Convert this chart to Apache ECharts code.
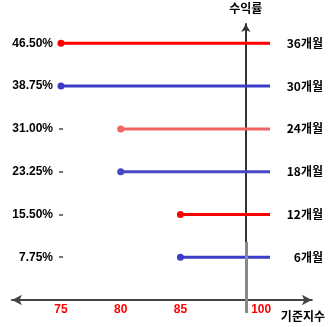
<!DOCTYPE html>
<html>
<head>
<meta charset="utf-8">
<script src="https://cdn.jsdelivr.net/npm/echarts@6/dist/echarts.min.js"></script>
<style>
  html, body { margin: 0; padding: 0; background: #fff; }
  #chart { width: 328px; height: 327px; }
</style>
</head>
<body>
<div id="chart"></div>
<script>
// 만기별 조기상환 조건
const periods = ['36개월', '30개월', '24개월', '18개월', '12개월', '6개월']
const returns = [46.5, 38.75, 31.0, 23.25, 15.5, 7.75]
const barriers = [75, 75, 80, 80, 85, 85]
const lineEnd = 102
const xTicks = [75, 80, 85, 100]
const yTicks = [7.75, 15.5, 23.25, 31.0, 38.75, 46.5]
const lineColors = ['#ff0000', '#3c3cc8', '#f26464', '#4848c4', '#ff0000', '#3c3cc8']

const chart = echarts.init(document.getElementById('chart'))

const series = periods.map((name, i) => ({
  name: name,
  type: 'line',
  xAxisIndex: 0,
  yAxisIndex: 0,
  data: [
    { value: [barriers[i], returns[i]], symbol: 'circle' },
    { value: [lineEnd, returns[i]], symbol: 'none' }
  ],
  symbolSize: 7,
  showAllSymbol: true,
  color: lineColors[i],
  lineStyle: { width: 3, color: lineColors[i] },
  itemStyle: { color: lineColors[i] },
  endLabel: {
    show: true,
    formatter: '{a}',
    color: '#000',
    fontWeight: 'bold',
    fontSize: 12,
    fontFamily: 'Noto Sans CJK KR',
    align: 'right',
    distance: 53
  },
  animation: false
}))

// 기준지수 100 위치 표시선
series.push({
  type: 'line',
  xAxisIndex: 0,
  yAxisIndex: 0,
  data: [],
  markLine: {
    silent: true,
    symbol: 'none',
    label: { show: false },
    lineStyle: { color: '#888', width: 3, type: 'solid' },
    data: [[{ coord: [100, 0] }, { coord: [100, 10.5] }]]
  },
  animation: false
})

chart.setOption({
  animation: false,
  grid: { left: 12, right: 15, top: 24, bottom: 27 },
  xAxis: [{
    type: 'value',
    min: 70.9,
    max: 105.5,
    position: 'bottom',
    breaks: [{ start: 87, end: 98, gap: 1.5 }],
    breakArea: { show: false },
    axisLine: { show: false },
    axisTick: {
      show: true,
      customValues: [100],
      length: 13,
      lineStyle: { color: '#888', width: 3 }
    },
    splitLine: { show: false },
    axisLabel: {
      customValues: xTicks,
      margin: 4,
      color: '#ff0000',
      fontWeight: 'bold',
      fontSize: 12,
      formatter: v => (v === 100 ? '{r|100}' : String(v)),
      rich: { r: { color: '#ff0000', fontWeight: 'bold', fontSize: 12, padding: [0, 0, 0, 30] } }
    }
  }, {
    type: 'value',
    min: 0,
    max: 1,
    position: 'bottom',
    name: '기준지수',
    nameLocation: 'end',
    nameGap: -31,
    nameMoveOverlap: false,
    nameTextStyle: {
      color: '#000', fontWeight: 'bold', fontSize: 12,
      fontFamily: 'Noto Sans CJK KR', verticalAlign: 'top', padding: [10, 0, 0, 0]
    },
    axisLine: {
      show: true,
      onZero: false,
      symbol: ['arrow', 'arrow'],
      symbolSize: [8, 10],
      lineStyle: { color: '#444', width: 2 }
    },
    axisTick: { show: false },
    axisLabel: { show: false },
    splitLine: { show: false }
  }],
  yAxis: [{
    type: 'value',
    min: 0,
    max: 50,
    position: 'left',
    offset: -51,
    axisLine: { show: false },
    axisTick: { show: true, customValues: yTicks, length: 4, lineStyle: { color: '#777', width: 2 } },
    splitLine: { show: false },
    axisLabel: {
      customValues: yTicks,
      margin: 10,
      color: '#000',
      fontWeight: 'bold',
      fontSize: 12,
      formatter: v => v.toFixed(2) + '%'
    }
  }, {
    type: 'value',
    min: 0,
    max: 50,
    position: 'right',
    offset: -66,
    name: '수익률',
    nameLocation: 'end',
    nameGap: 10,
    nameTextStyle: { color: '#000', fontWeight: 'bold', fontSize: 12, fontFamily: 'Noto Sans CJK KR' },
    axisLine: {
      show: true,
      symbol: ['none', 'arrow'],
      symbolSize: [7, 8],
      lineStyle: { color: '#333', width: 2 }
    },
    axisTick: { show: false },
    axisLabel: { show: false },
    splitLine: { show: false }
  }],
  series: series
})
</script>
</body>
</html>
